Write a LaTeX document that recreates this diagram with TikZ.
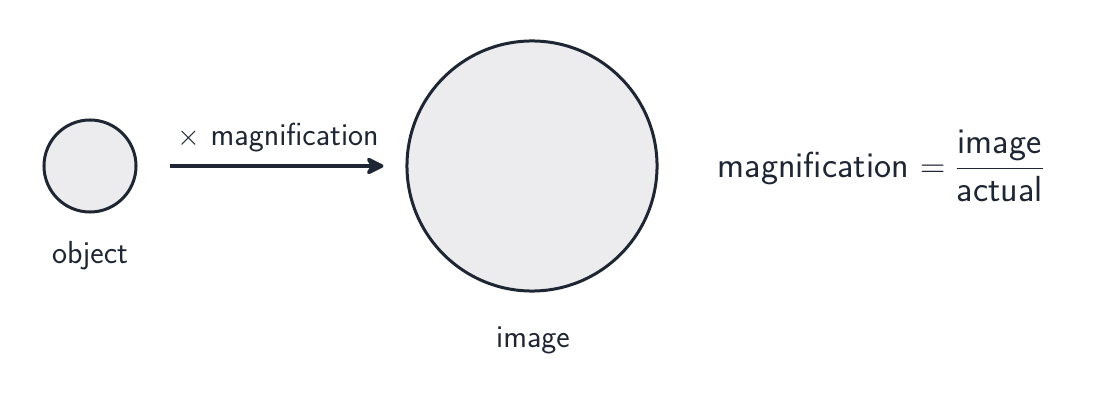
\documentclass[tikz,border=0pt]{standalone}
\usepackage{amsmath}
\usepackage{fontspec}
\usepackage{tikz}
\usetikzlibrary{positioning,arrows.meta,calc}
\definecolor{ink}{HTML}{1F2633}
\definecolor{disc}{HTML}{ECECEE}
\tikzset{%
  arrow/.style    = { -{Stealth[length=5.5mm,width=5.4mm,inset=1.8mm,round]}, line width = 0.9mm, draw = #1 },
  lens/.style     = { circle, fill = disc, draw = ink, line width = 0.75mm, inner sep = 0pt,
                      minimum size = #1 },
  lbl/.style      = { text = ink, font = \sffamily\fontsize{22.7}{27}\selectfont, inner sep = 0pt }
}

\begin{document}
\begin{tikzpicture}[x=0.025cm,y=-0.025cm]
\useasboundingbox (0,0) rectangle (1103,406);
\node(obj) [lens=2.3cm] at (90,166)  {};
\node(img) [lens=6.25cm] at (532,166) {};

\node(objl) [lbl] at (90,256)  {object};
\node(imgl) [lbl] at (533,340) {image};

\draw[arrow=ink, shorten <= 0.8cm, shorten >= 0.55cm] (obj.east) -- (img.west)
  node[lbl, midway, above = 0.3cm, xshift = 0.17cm] {$\times$ magnification};

\node(eq) [lbl, font = \sffamily\fontsize{25.8}{30}\selectfont] at (881,166)
  {magnification $= \dfrac{\text{image}}{\text{actual}}$};
\end{tikzpicture}
\end{document}
